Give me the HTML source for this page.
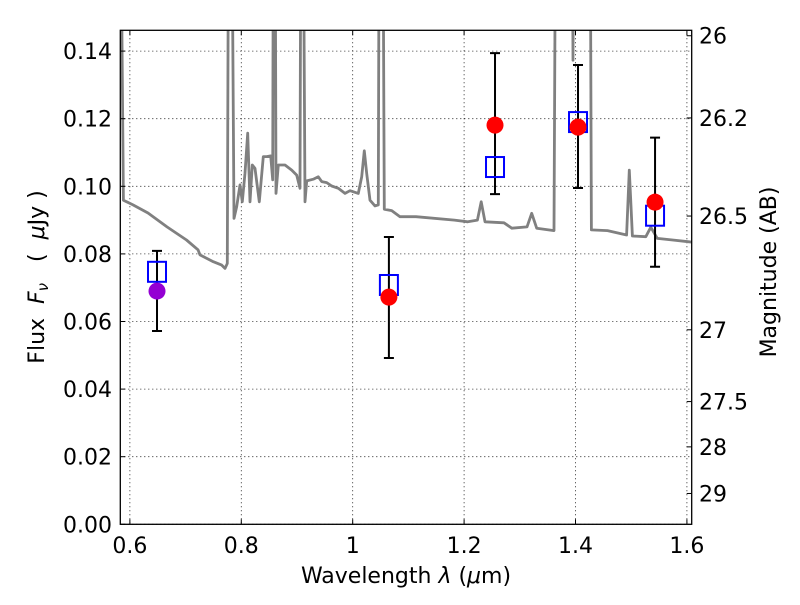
<!DOCTYPE html>
<html><head><meta charset="utf-8"><style>
body{margin:0;background:#fff}
svg text{font-family:"DejaVu Sans","Liberation Sans",sans-serif;fill:#000}
</style></head><body>
<svg id="chart" width="800" height="600" xmlns="http://www.w3.org/2000/svg">
<rect width="800" height="600" fill="#fff"/>
<defs><clipPath id="clip"><rect x="120.3" y="30.3" width="571.4" height="494"/></clipPath></defs>
<g id="grid"></g>
<g id="spec" clip-path="url(#clip)"></g>
<g id="marks"></g>
<rect x="120.3" y="30.3" width="571.4" height="494" fill="none" stroke="#000" stroke-width="1.3"/>
<g id="axes"></g>
<text x="406" y="583" font-size="22" text-anchor="middle">Wavelength  <tspan font-style="italic">λ</tspan> (<tspan font-style="italic">μ</tspan>m)</text>
<text transform="translate(44,277) rotate(-90)" font-size="22" text-anchor="middle" xml:space="preserve">Flux  <tspan font-style="italic">F</tspan><tspan font-style="italic" font-size="15" dy="4">ν</tspan><tspan dy="-4">   (  </tspan><tspan font-style="italic">μ</tspan>Jy )</text>
<text transform="translate(776,272) rotate(-90)" font-size="22" text-anchor="middle">Magnitude (AB)</text>
</svg>
<script>
const xTicks=[0.6,0.8,1.0,1.2,1.4,1.6];
const xTickLabels=["0.6","0.8","1","1.2","1.4","1.6"];
const yTicks=[0,0.02,0.04,0.06,0.08,0.10,0.12,0.14];
const yTickLabels=["0.00","0.02","0.04","0.06","0.08","0.10","0.12","0.14"];
const magTicks=[26,26.2,26.5,27,27.5,28,29];
const magTickLabels=["26","26.2","26.5","27","27.5","28","29"];
const specWave=[0.5828,0.5884,0.6056,0.6325,0.6666,0.7016,0.7223,0.7259,0.7498,0.7648,0.7708,0.7749,0.7774,0.7824,0.7869,0.7918,0.7977,0.8018,0.8067,0.8115,0.8156,0.8198,0.8246,0.8323,0.8395,0.8456,0.8528,0.8564,0.8578,0.8605,0.8623,0.8665,0.8785,0.8905,0.8995,0.9054,0.9072,0.9108,0.9144,0.9175,0.9293,0.9383,0.9444,0.9534,0.9623,0.9742,0.9862,0.9952,1.0101,1.0162,1.0209,1.0252,1.0311,1.0401,1.0460,1.0478,1.0539,1.0568,1.0700,1.0850,1.1137,1.1826,1.2067,1.2239,1.2307,1.2375,1.2717,1.2857,1.3130,1.3214,1.3304,1.3614,1.3647,1.3937,1.3955,1.3973,1.4260,1.4286,1.4575,1.4918,1.4966,1.5022,1.5262,1.5352,1.5469,1.5743,1.6020,1.6092];
const specFlux=[0.2,0.0959,0.0945,0.0921,0.0880,0.0841,0.0812,0.0797,0.0777,0.0767,0.0757,0.0772,0.2,0.2,0.0905,0.0940,0.1004,0.0954,0.1039,0.1157,0.0954,0.1063,0.1053,0.0954,0.1088,0.1088,0.1090,0.1019,0.2,0.2,0.0979,0.1063,0.1063,0.1048,0.1033,0.0994,0.2,0.2,0.0954,0.1016,0.1021,0.1028,0.1014,0.1011,0.1001,0.0994,0.0979,0.0987,0.0979,0.1028,0.1105,0.1038,0.0959,0.0942,0.0945,0.2,0.2,0.0932,0.0928,0.0910,0.0910,0.0900,0.0895,0.0900,0.0954,0.0895,0.0892,0.0876,0.0880,0.0920,0.0876,0.0869,0.2,0.2,0.1373,0.2,0.2,0.0871,0.0869,0.0856,0.1048,0.0853,0.0851,0.0879,0.0846,0.0841,0.0836,0.0835];
const bandWave=[0.6487,1.065,1.2555,1.4045,1.5428];
const obsFlux=[0.0690,0.0672,0.1181,0.1175,0.0953];
const errHigh=[0.0809,0.0850,0.1394,0.1359,0.1144];
const errLow=[0.0572,0.0492,0.0977,0.0995,0.0762];
const modelFlux=[0.0747,0.0708,0.1057,0.1190,0.0913];
const obsColors=["#9400d3","#ff0000","#ff0000","#ff0000","#ff0000"];

const X0=120.3,X1=691.7,Y0=524.3,Y1=30.3,xmin=0.5828,xmax=1.6086,ymax=(Y0-Y1)/3380;
const sx=v=>X0+(v-xmin)/(xmax-xmin)*(X1-X0);
const sy=v=>Y0-v/ymax*(Y0-Y1);
const magToFlux=m=>Math.pow(10,(23.9-m)/2.5);
const NS="http://www.w3.org/2000/svg";
function mk(tag,attrs,parent){const e=document.createElementNS(NS,tag);for(const k in attrs)e.setAttribute(k,attrs[k]);parent.appendChild(e);return e;}
const grid=document.getElementById('grid'),axes=document.getElementById('axes'),spec=document.getElementById('spec'),marks=document.getElementById('marks');

xTicks.forEach((t,i)=>{const x=sx(t);
 let g=mk('line',{x1:x,x2:x,y1:Y1,y2:Y0,stroke:'#000','stroke-width':0.8,'stroke-dasharray':'1,3'},grid);
 
 
 mk('line',{x1:x,x2:x,y1:Y0,y2:Y0-5,stroke:'#000','stroke-width':1},axes);
 mk('line',{x1:x,x2:x,y1:Y1,y2:Y1+5,stroke:'#000','stroke-width':1},axes);
 let tx=mk('text',{x:x,y:553,'font-size':22,'text-anchor':'middle'},axes);tx.textContent=xTickLabels[i];
 
 
});
yTicks.forEach((t,i)=>{const y=sy(t);
 let g=mk('line',{x1:X0,x2:X1,y1:y,y2:y,stroke:'#000','stroke-width':0.8,'stroke-dasharray':'1,3'},grid);
 
 
 mk('line',{x1:X0,x2:X0+5,y1:y,y2:y,stroke:'#000','stroke-width':1},axes);
 let tx=mk('text',{x:112,y:y+8,'font-size':22,'text-anchor':'end'},axes);tx.textContent=yTickLabels[i];
 
 
});
magTicks.forEach((m,i)=>{const y=sy(magToFlux(m));
 mk('line',{x1:X1,x2:X1-5,y1:y,y2:y,stroke:'#000','stroke-width':1},axes);
 let tx=mk('text',{x:699,y:y+8,'font-size':22,'text-anchor':'start'},axes);tx.textContent=magTickLabels[i];
 
 
});

let d=specWave.map((w,i)=>(i?'L':'M')+sx(w).toFixed(1)+','+sy(specFlux[i]).toFixed(1)).join(' ');
let p=mk('path',{d:d,fill:'none',stroke:'#808080','stroke-width':2.8,'stroke-linejoin':'round'},spec);



bandWave.forEach((w,i)=>{const x=sx(w);
 let e=mk('path',{d:`M${x},${sy(errHigh[i])}V${sy(errLow[i])}M${x-5},${sy(errHigh[i])}h10M${x-5},${sy(errLow[i])}h10`,stroke:'#000','stroke-width':2,fill:'none'},marks);
 
 
});
bandWave.forEach((w,i)=>{const x=sx(w),y=sy(modelFlux[i]);
 let r=mk('rect',{x:x-9,y:y-10,width:18,height:20,fill:'none',stroke:'#0000ff','stroke-width':2},marks);
 
 
});
bandWave.forEach((w,i)=>{
 let c=mk('circle',{cx:sx(w),cy:sy(obsFlux[i]),r:8.5,fill:obsColors[i]},marks);
 
 
});
</script>
</body></html>
